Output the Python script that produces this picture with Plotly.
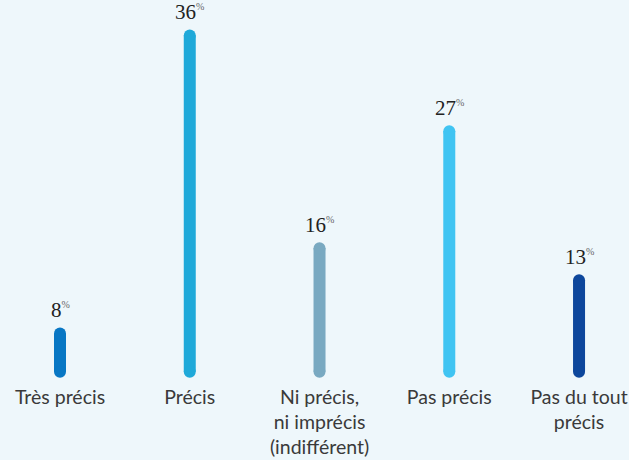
import plotly.graph_objects as go

categories = ["Très précis", "Précis", "Ni précis,<br>ni imprécis<br>(indifférent)", "Pas précis", "Pas du tout<br>précis"]
values = [8, 36, 16, 27, 13]
colors = ["#0877c4", "#1fa9d9", "#79a9c1", "#40c4f2", "#0d479c"]

# bars start slightly above zero so the rounded foot sits above the labels
BAR_BASE = 4.4
BAR_PX = 12

fig = go.Figure()
for cat, val, col in zip(categories, values, colors):
    fig.add_trace(go.Scatter(
        x=[cat, cat], y=[BAR_BASE, val],
        mode="lines+markers",
        line=dict(color=col, width=BAR_PX),
        marker=dict(color=col, size=BAR_PX),
        hoverinfo="skip", showlegend=False,
    ))
    fig.add_annotation(
        x=cat, y=val,
        text=f"{val}<sup><span style='font-size:10px;color:#666666'>%</span></sup>",
        showarrow=False, yanchor="bottom", yshift=9,
        font=dict(family="Liberation Serif, DejaVu Serif, serif", size=21, color="#222222"),
    )

fig.update_layout(
    width=629, height=460,
    margin=dict(l=0, r=0, t=0, b=80),
    paper_bgcolor="#eef7fb", plot_bgcolor="#eef7fb",
    xaxis=dict(
        type="category", range=[-0.4624, 4.385],
        showgrid=False, zeroline=False, showline=False, ticks="",
        tickfont=dict(family="Lato, Roboto, sans-serif", size=19.5, color="#3a3a3a"),
        ticklabelstandoff=3,
    ),
    yaxis=dict(
        range=[3.63, 39.33], visible=False, showgrid=False, zeroline=False,
    ),
)

fig.write_html("out.html")
